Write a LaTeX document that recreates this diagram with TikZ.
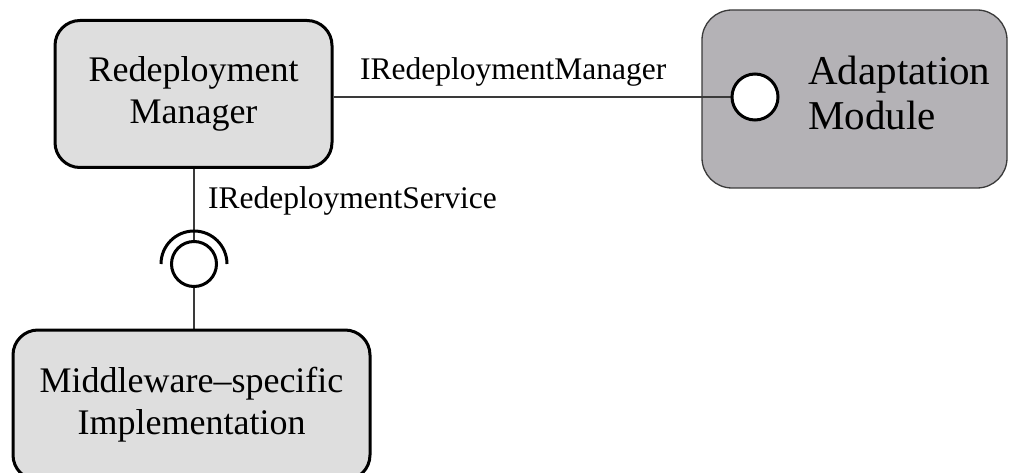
\documentclass[tikz,border=0pt]{standalone}
\usepackage{fontspec}
\setmainfont{Liberation Serif}
\usetikzlibrary{backgrounds}
\definecolor{lightbox}{HTML}{DEDEDE}
\definecolor{darkbox}{HTML}{B4B2B6}
\definecolor{edgegray}{HTML}{3A3A3A}
\begin{document}
\begin{tikzpicture}[x=1pt,y=-1pt,
  compbox/.style={draw=black, line width=3pt, fill=lightbox, rounded corners=25pt,
    align=center, inner sep=0pt, font=\fontsize{36}{42}\selectfont},
  extbox/.style={draw=edgegray, line width=1.3pt, fill=darkbox, rounded corners=30pt, inner sep=0pt},
  ball/.style={circle, draw=black, line width=3pt, fill=white, inner sep=0pt},
  wire/.style={draw=edgegray, line width=1.3pt},
  iflabel/.style={anchor=base west, inner sep=0pt, font=\fontsize{31.5}{36}\selectfont}
]
\useasboundingbox (0,0) rectangle (1009,473);
\clip (0,0) rectangle (1009,473);
% nodes
\begin{scope}[on background layer]
\node[extbox, minimum width=305pt, minimum height=178pt] (am) at (854.5,99) {};
\end{scope}
\node[compbox, minimum width=277pt, minimum height=147pt] (rm) at (193.5,94) {Redeployment\\Manager};
\node[anchor=west, align=left, inner sep=0pt, font=\fontsize{41}{45}\selectfont] (amtext) at (808,93) {Adaptation\\Module};
\node[ball, minimum size=46pt] (amball) at (755,97) {};
\node[compbox, minimum width=357pt, minimum height=150pt] (mi) at (191.5,405) {Middleware--specific\\Implementation};
\node[ball, minimum size=45pt] (rsball) at (194,264) {};
\coordinate (socktop) at ([yshift=-33pt]rsball.center);
% socket
\draw[line width=3pt, black] ([xshift=33pt]rsball.center) arc[start angle=0, end angle=180, radius=33pt];
% connectors
\begin{scope}[on background layer]
\draw[wire] (rm.east |- amball.west) -- (amball.west);
\draw[wire] (rm.south -| socktop) -- (socktop);
\draw[wire] (rsball.south) -- (rsball.south |- mi.north);
\end{scope}
% labels
\node[iflabel] (lblmgr) at (360,80) {IRedeploymentManager};
\node[iflabel] (lblsvc) at (208,208) {IRedeploymentService};
\end{tikzpicture}
\end{document}
